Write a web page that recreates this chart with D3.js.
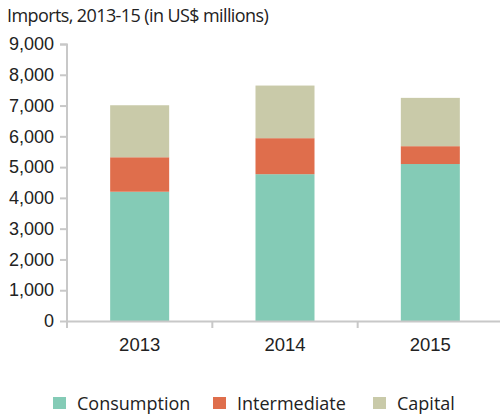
<!DOCTYPE html>
<html>
<head>
<meta charset="utf-8">
<script src="https://cdn.jsdelivr.net/npm/d3@7"></script>
<style>
  body { margin: 0; background: #fff; }
  svg { font-family: "Open Sans", sans-serif; }
</style>
</head>
<body>
<svg id="chart" width="500" height="415"></svg>
<script>
// data
const years = ['2013', '2014', '2015'];
const series = ['Consumption', 'Intermediate', 'Capital'];
const consumption = [4200, 4770, 5100];
const intermediate = [1120, 1170, 580];
const capital = [1690, 1710, 1570];
const yTicks = [0, 1000, 2000, 3000, 4000, 5000, 6000, 7000, 8000, 9000];
const colors = ['#84cbb6', '#df6e4c', '#c9caa9'];

const rows = years.map((y, i) => ({
    year: y,
    Consumption: consumption[i],
    Intermediate: intermediate[i],
    Capital: capital[i]
}));

const svg = d3.select('#chart');
const margin = {left: 67, right: -3, top: 44, bottom: 94};
const width = 500 - margin.left - margin.right;
const height = 415 - margin.top - margin.bottom;

const x = d3.scaleBand().domain(years).range([0, width])
    .paddingInner(0.594).paddingOuter(0.297);
const y = d3.scaleLinear().domain([0, 9000]).range([height, 0]);

const g = svg.append('g').attr('transform', `translate(${margin.left},${margin.top})`);

// title
svg.append('text')
    .attr('x', 7).attr('y', 22)
    .style('font-size', '18px').style('letter-spacing', '-0.6px').style('fill', '#222')
    .text('Imports, 2013-15 (in US$ millions)');

// bars
const stacked = d3.stack().keys(series)(rows);
g.selectAll('.layer')
    .data(stacked)
    .enter().append('g')
    .attr('class', 'layer')
    .attr('fill', (d, i) => colors[i])
    .selectAll('rect')
    .data(d => d)
    .enter().append('rect')
    .attr('x', d => x(d.data.year))
    .attr('width', x.bandwidth())
    .attr('y', d => y(d[1]))
    .attr('height', d => y(d[0]) - y(d[1]));

// y axis
const yAxis = g.append('g')
    .call(d3.axisLeft(y).tickValues(yTicks).tickFormat(d3.format(',')).tickSize(7).tickPadding(6));
yAxis.select('.domain').attr('stroke', '#c8c8c8').attr('stroke-width', 2)
    .attr('d', `M-7,0.5H0V${height}`);
yAxis.selectAll('.tick line').attr('stroke', '#c8c8c8').attr('stroke-width', 2);
yAxis.selectAll('.tick text').style('font-size', '18px').style('fill', '#222');

// x axis
const xAxis = g.append('g').attr('transform', `translate(0,${height})`)
    .call(d3.axisBottom(x).tickSize(0).tickPadding(17));
xAxis.select('.domain').attr('stroke', '#c8c8c8').attr('stroke-width', 2);
xAxis.selectAll('.tick text').style('font-size', '18.5px').style('fill', '#222');
// category separators
xAxis.selectAll('.sep')
    .data(years)
    .enter().append('line')
    .attr('stroke', '#c8c8c8').attr('stroke-width', 2)
    .attr('x1', d => x(d) - x.step() * x.paddingInner() / 2)
    .attr('x2', d => x(d) - x.step() * x.paddingInner() / 2)
    .attr('y1', 0).attr('y2', 7);

// legend
const legendX = [53, 213, 373];
const legend = svg.append('g').selectAll('g')
    .data(series)
    .enter().append('g')
    .attr('transform', (d, i) => `translate(${legendX[i]},397)`);
legend.append('rect').attr('width', 13).attr('height', 12)
    .attr('fill', (d, i) => colors[i]);
legend.append('text').attr('x', 24).attr('y', 12.5)
    .style('font-size', '18px').style('fill', '#222')
    .text(d => d);
</script>
</body>
</html>
